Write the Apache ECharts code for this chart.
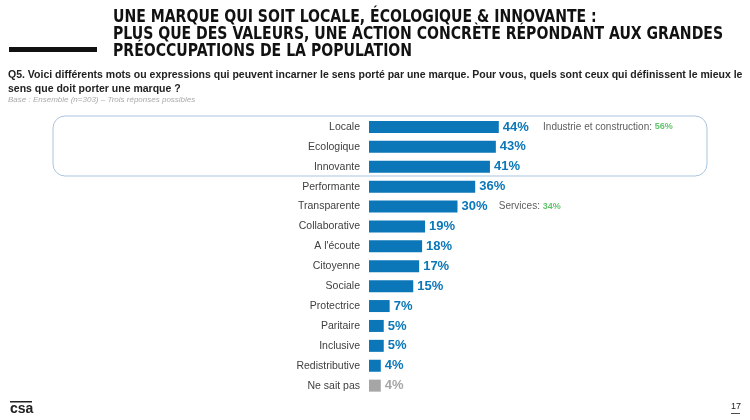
<!DOCTYPE html>
<html><head><meta charset="utf-8">
<script src="https://cdn.jsdelivr.net/npm/echarts@6/dist/echarts.min.js"></script>
<style>html,body{margin:0;padding:0;background:#fff}#c{width:750px;height:420px}</style>
</head><body><div id="c"></div>
<script>
const categories = ["Locale","Ecologique","Innovante","Performante","Transparente","Collaborative","A l'écoute","Citoyenne","Sociale","Protectrice","Paritaire","Inclusive","Redistributive","Ne sait pas"];
const values = [44,43,41,36,30,19,18,17,15,7,5,5,4,4];
const highlights = [{cat:"Locale",label:"Industrie et construction: ",val:"56%"},{cat:"Transparente",label:"Services: ",val:"34%"}];
const titleLines = ["UNE MARQUE QUI SOIT LOCALE, ÉCOLOGIQUE & INNOVANTE :","PLUS QUE DES VALEURS, UNE ACTION CONCRÈTE RÉPONDANT AUX GRANDES","PRÉOCCUPATIONS DE LA POPULATION"];
const question = ["Q5. Voici différents mots ou expressions qui peuvent incarner le sens porté par une marque. Pour vous, quels sont ceux qui définissent le mieux le","sens que doit porter une marque ?"];
const baseNote = "Base : Ensemble (n=303) – Trois réponses possibles";

const BLUE = '#0b77b8', GREY = '#a6a6a6';
const chart = echarts.init(document.getElementById('c'));
const gridLeft = 369, gridTop = 117, rowH = 19.9, xMax = 100, gridW = 295;
const graphic = [];
titleLines.forEach((t,i)=>graphic.push({type:'text',x:113,y:9+i*17,scaleX:0.92,style:{text:t,font:'bold 17px "DejaVu Sans Condensed", sans-serif',fill:'#111'}}));
graphic.push({type:'rect',shape:{x:9,y:47,width:88,height:5},style:{fill:'#111'}});
question.forEach((t,i)=>graphic.push({type:'text',left:8,top:70+i*14,style:{text:t,font:'bold 10.5px "Liberation Sans", sans-serif',fill:'#222'}}));
graphic.push({type:'text',left:8,top:96,style:{text:baseNote,font:'italic 8px "Liberation Sans", sans-serif',fill:'#aaa'}});
graphic.push({type:'rect',shape:{x:53,y:116,width:654,height:60,r:12},style:{fill:'none',stroke:'#a9c4e0',lineWidth:1}});
graphic.push({type:'text',left:10,top:402,style:{text:'csa',font:'bold 14px "Liberation Sans", sans-serif',fill:'#222'}});
graphic.push({type:'rect',shape:{x:10,y:401,width:22,height:1.5},style:{fill:'#222'}});
graphic.push({type:'text',left:731,top:402,style:{text:'17',font:'9px "Liberation Sans", sans-serif',fill:'#222'}});
graphic.push({type:'rect',shape:{x:731,y:413,width:9,height:0.8},style:{fill:'#222'}});

chart.setOption({
  animation:false,
  grid:{left:gridLeft,top:gridTop,width:gridW,height:rowH*categories.length},
  xAxis:{type:'value',min:0,max:xMax,show:false},
  yAxis:{type:'category',data:categories,inverse:true,axisLine:{show:false},axisTick:{show:false},
    axisLabel:{color:'#404040',fontSize:10.5,fontFamily:'"Liberation Sans", sans-serif',margin:9}},
  series:[{type:'bar',barWidth:12,
    data:values.map((v,i)=>({value:v,itemStyle:{color:categories[i]==='Ne sait pas'?GREY:BLUE},
      label:{color:categories[i]==='Ne sait pas'?GREY:BLUE}})),
    label:{show:true,position:'right',distance:4,formatter:'{c}%',fontWeight:'bold',fontSize:13,fontFamily:'"Liberation Sans", sans-serif'}},
   {type:'scatter',symbolSize:0,silent:true,
    data:highlights.map(h=>[values[categories.indexOf(h.cat)]+ (h.cat==='Locale'?15:14), h.cat]),
    label:{show:true,position:'right',distance:0,
      formatter:p=>{const h=highlights[p.dataIndex];return '{a|'+h.label+'}{b|'+h.val+'}';},
      rich:{a:{color:'#333',fontSize:10,fontFamily:'"Liberation Sans", sans-serif'},b:{color:'#3cb54a',fontSize:9,fontWeight:'bold',fontFamily:'"Liberation Sans", sans-serif'}}}}],
  graphic:graphic
});
</script></body></html>
